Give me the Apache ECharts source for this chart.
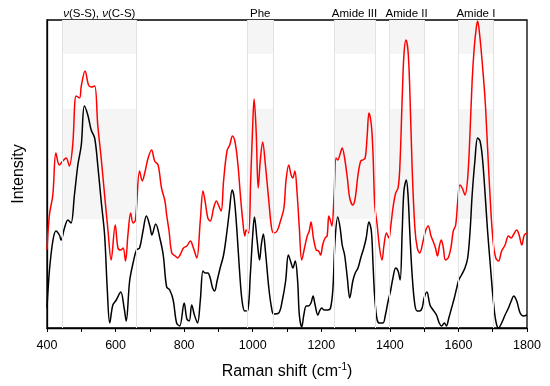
<!DOCTYPE html>
<html><head><meta charset="utf-8">
<script src="https://cdn.jsdelivr.net/npm/echarts@6/dist/echarts.min.js"></script>
<style>html,body{margin:0;padding:0;background:#fff}#c{width:550px;height:386px}</style>
</head><body><div id="c"></div>
<script>
// Raman shift (cm-1) and intensity (arbitrary units)
const redX = [400,407,417,426,436,446,456,465,475,485,495,500,511,521,529,539,548,558,568,578,587,599,607,615,622,629,636,644,651,658,670,678,685,695,705,714,724,734,744,749,756,764,774,781,788,798,808,818,827,837,847,855,861,869,876,886,894,900,908,915,925,933,941,949,957,964,971,977,981,988,994,1000,1004,1010,1016,1022,1029,1037,1047,1055,1061,1071,1081,1091,1097,1105,1112,1117,1123,1129,1136,1143,1151,1159,1165,1170,1177,1185,1192,1198,1204,1211,1217,1222,1227,1231,1237,1243,1248,1254,1261,1268,1276,1283,1292,1299,1307,1315,1321,1328,1334,1339,1346,1351,1356,1363,1370,1377,1383,1390,1397,1402,1409,1417,1424,1429,1436,1441,1447,1453,1458,1465,1473,1480,1487,1497,1504,1512,1520,1526,1533,1539,1545,1550,1556,1562,1570,1578,1585,1592,1598,1604,1611,1619,1627,1634,1640,1646,1652,1656,1662,1670,1678,1685,1693,1701,1709,1717,1726,1736,1746,1754,1760,1770,1777,1785,1792,1800];
const redY = [78,113,133,175,163,167,170,162,183,232,230,242,257,243,241,242,203,170,133,97,68,103,80,78,80,67,93,115,105,108,157,147,155,170,178,167,163,140,127,113,97,75,72,70,73,80,82,87,80,70,107,137,127,110,107,120,127,123,117,147,177,183,192,185,163,133,107,92,98,95,147,203,229,197,140,167,186,163,127,100,95,97,107,120,147,163,153,150,157,137,100,68,80,92,97,106,90,78,77,73,83,90,92,112,107,102,130,170,168,173,180,170,150,130,123,130,153,167,168,170,193,215,203,173,123,103,80,68,83,95,90,100,120,135,140,160,230,273,288,277,240,160,100,80,75,87,97,102,92,87,80,72,83,88,80,68,70,80,97,103,127,143,140,133,150,197,247,280,300,307,293,263,227,180,127,87,70,67,77,83,92,90,93,98,93,83,93,95];
const blackX = [400,407,417,426,436,441,451,461,470,480,490,500,509,519,529,539,548,558,568,576,583,592,602,615,625,631,641,651,661,670,680,690,700,706,717,729,739,749,758,768,778,787,800,808,815,822,830,839,847,855,861,869,876,883,889,896,905,915,925,932,940,946,954,961,969,977,986,993,1000,1005,1013,1020,1025,1031,1037,1047,1055,1061,1076,1086,1096,1104,1112,1117,1124,1131,1136,1143,1149,1156,1162,1170,1176,1182,1190,1195,1201,1209,1219,1227,1234,1240,1248,1255,1261,1268,1276,1283,1292,1299,1307,1315,1324,1331,1339,1346,1351,1356,1363,1370,1380,1387,1395,1402,1409,1417,1424,1430,1436,1441,1448,1453,1458,1465,1473,1480,1487,1494,1500,1508,1517,1526,1536,1544,1551,1559,1565,1572,1580,1588,1595,1601,1609,1619,1627,1634,1640,1648,1656,1663,1670,1678,1685,1693,1701,1709,1717,1726,1736,1746,1754,1761,1770,1780,1790,1800];
const blackY = [20,57,87,97,93,88,100,108,105,133,163,183,222,213,198,190,163,127,93,37,5,23,28,36,20,7,47,65,78,80,97,112,102,93,104,90,73,41,38,28,5,2,25,9,7,23,13,5,27,57,55,55,50,40,37,47,60,73,97,117,138,130,97,60,27,17,18,53,93,111,87,68,83,94,77,40,20,14,15,27,47,73,65,60,67,47,13,1,13,22,22,25,32,23,13,17,20,18,18,20,40,87,111,100,83,73,50,30,47,55,60,70,80,90,106,97,63,30,8,5,5,13,27,37,50,60,57,48,97,137,148,133,97,53,23,17,17,20,30,36,23,18,13,5,2,5,2,10,20,30,40,48,53,60,70,97,133,167,190,187,170,133,97,63,30,7,0,5,13,20,27,32,27,15,12,13];
const xTicks = [400,600,800,1000,1200,1400,1600,1800];
// shaded spectral regions
const bandStart = [445,984,1237,1398,1600];
const bandEnd = [660,1060,1357,1500,1702];
const bandLabels = ['{i|ν}(S-S), {i|ν}(C-S)','Phe','Amide III','Amide II','Amide I'];
const stripeLow = [274,109];
const stripeHigh = [308,219];
const yMax = 308;

const areas = [];
for (let b = 0; b < bandStart.length; b++) {
  areas.push([{xAxis: bandStart[b], yAxis: yMax, name: bandLabels[b], itemStyle:{color:'rgba(0,0,0,0)'}}, {xAxis: bandEnd[b], yAxis: 0}]);
  for (let s = 0; s < stripeLow.length; s++) {
    areas.push([{xAxis: bandStart[b], yAxis: stripeHigh[s], label:{show:false}, itemStyle:{color:'#f5f5f5'}}, {xAxis: bandEnd[b], yAxis: stripeLow[s]}]);
  }
}
const edges = [];
for (let b = 0; b < bandStart.length; b++) { edges.push({xAxis: bandStart[b]}); edges.push({xAxis: bandEnd[b]}); }

const chart = echarts.init(document.getElementById('c'), null, {renderer:'canvas'});
const font = '"Liberation Sans", Arial, sans-serif';
chart.setOption({
  animation: false,
  backgroundColor: '#fff',
  grid: {left: 47, right: 23, top: 20, bottom: 58, show: true, borderColor: '#000', borderWidth: 1.3, backgroundColor: 'transparent'},
  xAxis: {
    type: 'value', min: 400, max: 1800, interval: 100,
    name: 'Raman shift (cm{sup|-1})', nameLocation: 'middle', nameGap: 34,
    nameTextStyle: {fontFamily: font, fontSize: 16, color: '#000', rich: {sup: {fontSize: 10, fontFamily: font, color:'#000', padding:[0,0,9,0]}}},
    axisLine: {show: true, lineStyle: {color: '#000', width: 1.3}},
    axisTick: {show: true, inside: false, length: 4, lineStyle: {color: '#000', width: 1}},
    axisLabel: {fontFamily: font, fontSize: 12.5, color: '#000', margin: 11,
      formatter: v => xTicks.indexOf(v) >= 0 ? String(v) : ''},
    splitLine: {show: false}
  },
  yAxis: {
    type: 'value', min: 0, max: yMax,
    name: 'Intensity', nameLocation: 'middle', nameGap: 20,
    nameTextStyle: {fontFamily: font, fontSize: 16, color: '#000'},
    axisLine: {show: true, lineStyle: {color: '#000', width: 1.3}},
    axisTick: {show: false}, axisLabel: {show: false}, splitLine: {show: false}
  },
  series: [
    {
      type: 'line', data: blackX.map((x, i) => [x, blackY[i]]),
      showSymbol: false, smooth: 0.35, lineStyle: {color: '#000', width: 1.5}, z: 3,
      markArea: {silent: true, data: areas,
        label: {show: true, position: 'top', distance: 0, fontFamily: font, fontSize: 11.5, color: '#000',
          rich: {i: {fontStyle: 'italic', fontFamily: font, fontSize: 11.5, color: '#000'}}}},
      markLine: {silent: true, symbol: ['none','none'], label: {show: false},
        lineStyle: {color: '#e2e2e2', type: 'solid', width: 1}, data: edges}
    },
    {
      type: 'line', data: redX.map((x, i) => [x, redY[i]]),
      showSymbol: false, smooth: 0.35, lineStyle: {color: '#ff0000', width: 1.5}, z: 4
    }
  ]
});
</script>
</body></html>
